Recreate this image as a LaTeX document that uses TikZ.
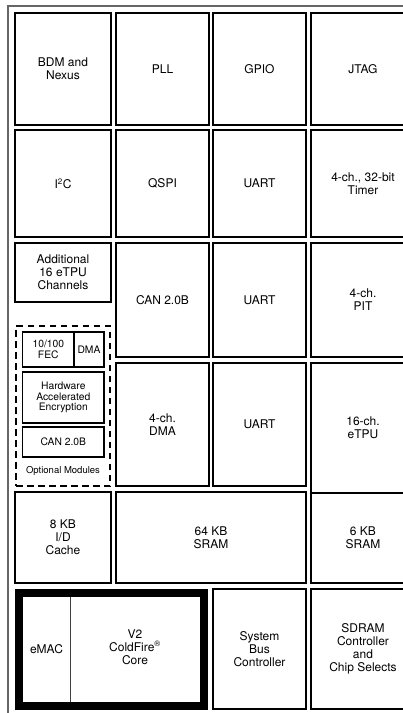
\documentclass[tikz,border=0pt]{standalone}
\usepackage{fontspec}
\setmainfont{TeX Gyre Heros}
\usetikzlibrary{positioning}

\begin{document}
\begin{tikzpicture}[
  x=1pt, y=-1pt,
  every node/.style={font=\fontsize{12}{13.2}\selectfont},
  unit/.style={rectangle, draw=black, line width=1.1pt, align=center, inner sep=0pt},
  optunit/.style={unit, font=\fontsize{10.3}{10.6}\selectfont},
  optframe/.style={rectangle, draw=black, line width=2.5pt, dash pattern=on 6.5pt off 4.5pt, inner sep=0pt},
  coreframe/.style={rectangle, draw=black, line width=8pt, inner sep=0pt},
  chipframe/.style={draw=black!60, line width=2pt}
]
\clip (0,0) rectangle (403,713);

% chip outline
\draw[chipframe] (7.7,713) |- (403,5.7);

% Row 1
\node[unit, minimum width=96, minimum height=112] (bdm) at (63,69) {BDM and\\Nexus};
\node[unit, minimum width=93, minimum height=112] (pll) at (162.5,69) {PLL};
\node[unit, minimum width=93, minimum height=112] (gpio) at (259.5,69) {GPIO};
\node[unit, minimum width=104, minimum height=112] (jtag) at (363,69) {JTAG};

% Row 2
\node[unit, minimum width=96, minimum height=107] (iic) at (63,183.5) {I\textsuperscript{2}C};
\node[unit, minimum width=93, minimum height=107] (qspi) at (162.5,183.5) {QSPI};
\node[unit, minimum width=93, minimum height=107] (uartA) at (259.5,183.5) {UART};
\node[unit, minimum width=104, minimum height=107] (timer) at (363,183.5) {4-ch., 32-bit\\Timer};

% Row 3
\node[unit, minimum width=96, minimum height=59] (etpuadd) at (63,272.5) {Additional\\16 eTPU\\Channels};
\node[unit, minimum width=93, minimum height=114] (canA) at (162.5,300) {CAN 2.0B};
\node[unit, minimum width=93, minimum height=114] (uartB) at (259.5,300) {UART};
\node[unit, minimum width=104, minimum height=114] (pit) at (363,300) {4-ch.\\PIT};

% Row 4
\node[unit, minimum width=93, minimum height=123] (dma) at (162.5,424.5) {4-ch.\\DMA};
\node[unit, minimum width=93, minimum height=123] (uartC) at (259.5,424.5) {UART};
\node[unit, minimum width=104, minimum height=130] (etpu) at (363,428) {16-ch.\\eTPU};

% Optional modules
\node[optframe, minimum width=94, minimum height=160] (opt) at (63,406) {};
\node[optunit, minimum width=51.3, minimum height=35] (fec) at (48.3,349.5) {10/100\\FEC};
\node[optunit, minimum width=30, minimum height=35] (fecdma) at (89,349.5) {DMA};
\node[optunit, minimum width=81.3, minimum height=51] (crypto) at (63.3,397.5) {Hardware\\Accelerated\\Encryption};
\node[optunit, minimum width=81.3, minimum height=30] (canB) at (63.3,442) {CAN 2.0B};
\node[font=\fontsize{9.5}{10}\selectfont] (optlabel) at (63,471) {Optional Modules};

% Row 5
\node[unit, minimum width=96, minimum height=91] (cache) at (63,537.5) {8 KB\\I/D\\Cache};
\node[unit, minimum width=190, minimum height=91] (sramA) at (211,537.5) {64 KB\\SRAM};
\node[unit, minimum width=104, minimum height=90] (sramB) at (363,538) {6 KB\\SRAM};

% Row 6
\node[coreframe, minimum width=185, minimum height=113] (core) at (111.5,649.5) {};
\node[align=center, minimum width=47, minimum height=105, inner sep=0pt] (emac) at (46.5,649.5) {eMAC};
\node[align=center, minimum width=130, minimum height=105, inner sep=0pt] (cfcore) at (135,647) {V2\\ColdFire\textsuperscript{®}\\Core};
\draw[black!75, line width=0.9pt] (emac.north east) -- (emac.south east);
\node[unit, minimum width=93, minimum height=120] (sbc) at (259.5,649) {System\\Bus\\Controller};
\node[unit, minimum width=104, minimum height=120] (sdram) at (363,649) {SDRAM\\Controller\\and\\Chip Selects};

\end{tikzpicture}
\end{document}
